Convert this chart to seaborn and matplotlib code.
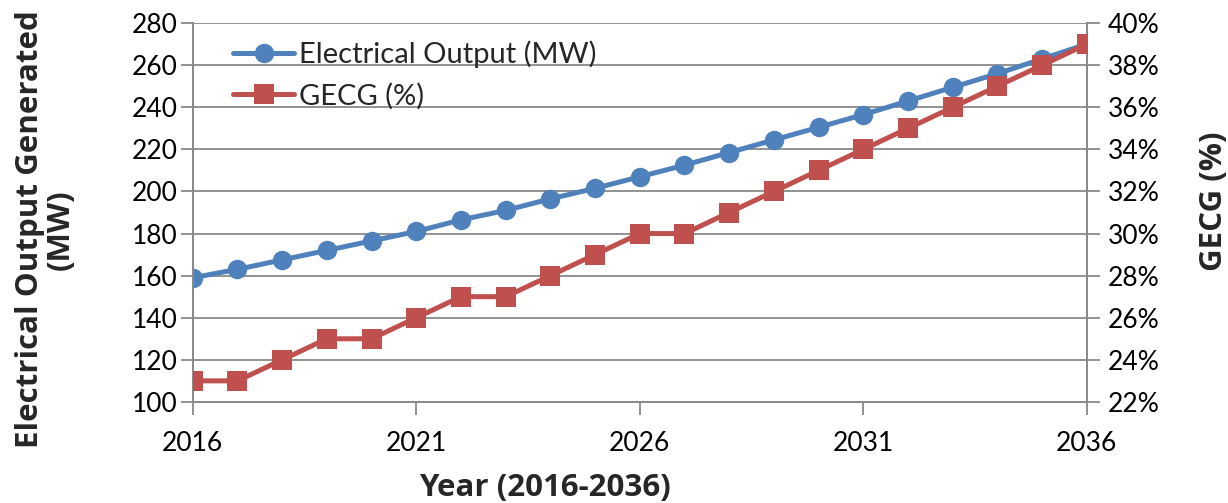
import matplotlib.pyplot as plt
import matplotlib.ticker as mticker
import pandas as pd
import seaborn as sns

years = list(range(2016, 2037))
output_mw = [159, 163, 167.5, 172, 176.5, 181, 186.5, 191, 196.5, 201.5, 207,
             212.5, 218.5, 224.5, 230.5, 236.5, 243, 249.5, 256, 263, 270]
gecg_pct = [23, 23, 24, 25, 25, 26, 27, 27, 28, 29, 30,
            30, 31, 32, 33, 34, 35, 36, 37, 38, 39]

data = pd.DataFrame({'year': years, 'output': output_mw, 'gecg': gecg_pct})

sns.set_style('white')
plt.rcParams['font.family'] = ['Lato', 'DejaVu Sans']
label_font = dict(family=['Open Sans', 'DejaVu Sans'], size=22.5, weight='bold')

blue = '#4F81BD'
red = '#C0504D'
grey = '#898989'

fig = plt.figure(figsize=(12.28, 5.03), dpi=100)
ax1 = fig.add_axes([0.157, 0.201, 0.728, 0.753])
ax2 = ax1.twinx()

sns.lineplot(data=data, x='year', y='output', ax=ax1, color=blue, marker='o',
             markersize=14, linewidth=3.6, markeredgewidth=0,
             label='Electrical Output (MW)', legend=False, zorder=3)
sns.lineplot(data=data, x='year', y='gecg', ax=ax2, color=red, marker='s',
             markersize=14, linewidth=3.6, markeredgewidth=0,
             label='GECG (%)', legend=False, zorder=3)

ax1.set_xlim(2016, 2036)
ax1.set_ylim(100, 280)
ax2.set_ylim(22, 40)
ax1.set_xticks([2016, 2021, 2026, 2031, 2036])
ax1.set_yticks(range(100, 281, 20))
ax2.set_yticks(range(22, 41, 2))
ax2.yaxis.set_major_formatter(mticker.FuncFormatter(lambda v, p: f'{v:.0f}%'))

ax1.yaxis.grid(True, color=grey, linewidth=1.3)
ax1.xaxis.grid(False)
ax2.grid(False)
ax1.set_axisbelow(True)

for ax in (ax1, ax2):
    ax.spines['top'].set_visible(False)
    for side in ('left', 'right', 'bottom'):
        ax.spines[side].set_color(grey)
        ax.spines[side].set_linewidth(1.3)
    ax.tick_params(axis='both', length=9, width=1.3, color=grey,
                   labelsize=19, labelcolor='black', direction='out')
ax1.tick_params(axis='x', bottom=True, pad=12)
ax1.tick_params(axis='y', left=True, pad=2)
ax2.tick_params(axis='y', right=True, pad=6)

ax1.set_xlabel('Year (2016-2036)', fontdict=label_font)
ax1.xaxis.set_label_coords(0.394, -0.188, transform=ax1.transAxes)
ax1.xaxis.label.set_va('top')
ax1.set_ylabel('Electrical Output Generated\n(MW)', fontdict=label_font,
               linespacing=1.05)
ax1.yaxis.set_label_coords(-0.131, 0.455)
ax2.set_ylabel('GECG (%)', fontdict=label_font)
ax2.yaxis.set_label_coords(1.125, 0.53)

ax2.set_zorder(ax1.get_zorder() + 1)
ax2.patch.set_visible(False)

h1, l1 = ax1.get_legend_handles_labels()
h2, l2 = ax2.get_legend_handles_labels()
ax2.legend(h1 + h2, l1 + l2, loc='upper left', bbox_to_anchor=(0.032, 0.985),
           frameon=False, fontsize=21, handlelength=2.1, handletextpad=0.15,
           labelspacing=0.5, borderaxespad=0)

fig.savefig('out.png', dpi=100)
